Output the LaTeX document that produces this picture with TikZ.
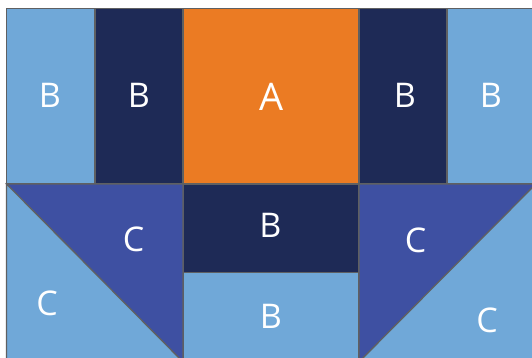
\documentclass[tikz,border=0pt]{standalone}
\usepackage{fontspec}
\setmainfont{Open Sans}
\definecolor{lightb}{RGB}{112,168,216}
\definecolor{navy}{RGB}{30,42,86}
\definecolor{orng}{RGB}{235,123,35}
\definecolor{midb}{RGB}{62,80,162}
\definecolor{edge}{RGB}{95,96,98}
\begin{document}
\begin{tikzpicture}[x=1pt,y=-1pt,
  patch/.style={draw=edge,line width=1.2pt,line join=miter},
  lab/.style={text=white,font=\fontsize{34}{34}\selectfont,inner sep=0pt},
  biglab/.style={text=white,font=\fontsize{38}{38}\selectfont,inner sep=0pt}]
\useasboundingbox (0,0) rectangle (532,358);
\fill[white] (0,0) rectangle (532,358);
% top row
\filldraw[patch,fill=lightb] (6.5,8.5) rectangle (95,184);
\filldraw[patch,fill=navy] (95,8.5) rectangle (183,184);
\filldraw[patch,fill=orng] (183,8.5) rectangle (359,184);
\filldraw[patch,fill=navy] (359,8.5) rectangle (447,184);
\filldraw[patch,fill=lightb] (447,8.5) rectangle (536,184);
% middle column
\filldraw[patch,fill=navy] (183,184) rectangle (359,272.5);
\filldraw[patch,fill=lightb] (183,272.5) rectangle (359,362);
% left triangles
\filldraw[patch,fill=midb] (6.5,184) -- (183,184) -- (183,362) -- cycle;
\filldraw[patch,fill=lightb] (6.5,184) -- (183,362) -- (6.5,362) -- cycle;
% right triangles
\filldraw[patch,fill=midb] (359,184) -- (536,184) -- (359,362) -- cycle;
\filldraw[patch,fill=lightb] (536,184) -- (536,362) -- (359,362) -- cycle;
% labels
\node[lab] (b1) at (50,95) {B};
\node[lab] (b2) at (139,95) {B};
\node[biglab] (a) at (271.5,96.5) {A};
\node[lab] (b3) at (405,95) {B};
\node[lab] (b4) at (491,95) {B};
\node[lab] (b5) at (270.5,225.5) {B};
\node[lab] (b6) at (271,316) {B};
\node[lab] (c1) at (133.7,239.5) {C};
\node[lab] (c2) at (47,303) {C};
\node[lab] (c3) at (415.5,240) {C};
\node[lab] (c4) at (487,320) {C};
\end{tikzpicture}
\end{document}
